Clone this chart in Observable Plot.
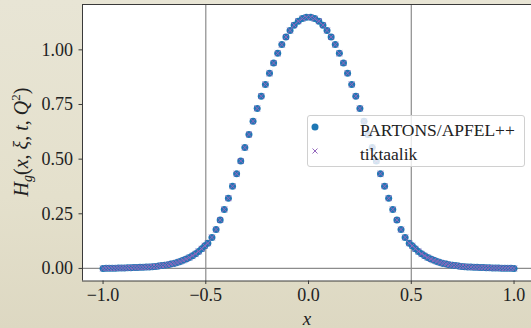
<!DOCTYPE html>
<html>
<head>
<meta charset="utf-8">
<script src="https://cdn.jsdelivr.net/npm/d3@7"></script>
<script src="https://cdn.jsdelivr.net/npm/@observablehq/plot@0.6"></script>
<style>
  html, body { margin: 0; padding: 0; background: #e5e1ce; }
  #wrap { position: relative; width: 531px; height: 328px; overflow: hidden;
    background: linear-gradient(180deg, #e8e5d5 0%, #e4e0cc 60%, #ddd8c2 100%); }
  #wrap svg { position: absolute; left: 0; top: 0; }
  g[aria-label="x-axis label"] text { font-style: italic; font-size: 19px; }
  #legend { position: absolute; left: 307px; top: 115px; width: 218px; height: 52px;
    background: rgba(255,255,255,0.8); border: 1px solid #d0d0d0; border-radius: 3px;
    font-family: "Liberation Serif", "DejaVu Serif", serif; font-size: 17.5px; color: #222; box-sizing: border-box; }
  .entry { position: absolute; left: 0; height: 20px; line-height: 20px; white-space: nowrap; }
  .entry svg { position: absolute; left: 16px; top: 3px; }
  .entry span { position: absolute; left: 52px; top: 0; }
</style>
</head>
<body>
<div id="wrap"></div>
<script>
// ---- data ----
const xGrid = [
  -1.000, -0.985, -0.970, -0.955, -0.940, -0.925, -0.910, -0.895, -0.880, -0.865,
  -0.850, -0.835, -0.820, -0.805, -0.790, -0.775, -0.760, -0.745, -0.730, -0.715,
  -0.700, -0.685, -0.670, -0.655, -0.640, -0.625, -0.610, -0.595, -0.580, -0.565,
  -0.550, -0.535, -0.520, -0.505,
  -0.49, -0.47, -0.45, -0.43, -0.41, -0.39, -0.37, -0.35, -0.33, -0.31,
  -0.29, -0.27, -0.25, -0.23, -0.21, -0.19, -0.17, -0.15, -0.13, -0.11,
  -0.09, -0.07, -0.05, -0.03, -0.01, 0.01, 0.03, 0.05, 0.07, 0.09,
  0.11, 0.13, 0.15, 0.17, 0.19, 0.21, 0.23, 0.25, 0.27, 0.29,
  0.31, 0.33, 0.35, 0.37, 0.39, 0.41, 0.43, 0.45, 0.47, 0.49,
  0.505, 0.520, 0.535, 0.550, 0.565, 0.580, 0.595, 0.610, 0.625, 0.640,
  0.655, 0.670, 0.685, 0.700, 0.715, 0.730, 0.745, 0.760, 0.775, 0.790,
  0.805, 0.820, 0.835, 0.850, 0.865, 0.880, 0.895, 0.910, 0.925, 0.940,
  0.955, 0.970, 0.985, 1.000
];
const hPartons = [
  0.000, 0.001, 0.001, 0.001, 0.001, 0.002, 0.002, 0.002, 0.003, 0.003,
  0.004, 0.004, 0.005, 0.005, 0.006, 0.007, 0.008, 0.009, 0.011, 0.013,
  0.015, 0.017, 0.020, 0.023, 0.027, 0.032, 0.037, 0.043, 0.050, 0.058,
  0.067, 0.078, 0.090, 0.104,
  0.115, 0.142, 0.178, 0.222, 0.270, 0.321, 0.376, 0.433, 0.492, 0.553,
  0.613, 0.673, 0.732, 0.788, 0.842, 0.893, 0.940, 0.984, 1.024, 1.059,
  1.089, 1.113, 1.131, 1.143, 1.149, 1.149, 1.143, 1.131, 1.113, 1.089,
  1.059, 1.024, 0.984, 0.940, 0.893, 0.842, 0.788, 0.732, 0.673, 0.613,
  0.553, 0.492, 0.433, 0.376, 0.321, 0.270, 0.222, 0.178, 0.142, 0.115,
  0.104, 0.090, 0.078, 0.067, 0.058, 0.050, 0.043, 0.037, 0.032, 0.027,
  0.023, 0.020, 0.017, 0.015, 0.013, 0.011, 0.009, 0.008, 0.007, 0.006,
  0.005, 0.005, 0.004, 0.004, 0.003, 0.003, 0.002, 0.002, 0.002, 0.001,
  0.001, 0.001, 0.001, 0.000
];
const hTiktaalik = [
  0.000, 0.001, 0.001, 0.001, 0.001, 0.002, 0.002, 0.002, 0.003, 0.003,
  0.004, 0.004, 0.005, 0.005, 0.006, 0.007, 0.008, 0.009, 0.011, 0.013,
  0.015, 0.017, 0.020, 0.023, 0.027, 0.032, 0.037, 0.043, 0.050, 0.058,
  0.067, 0.078, 0.090, 0.104,
  0.115, 0.142, 0.178, 0.222, 0.270, 0.321, 0.376, 0.433, 0.492, 0.553,
  0.613, 0.673, 0.732, 0.788, 0.842, 0.893, 0.940, 0.984, 1.024, 1.059,
  1.089, 1.113, 1.131, 1.143, 1.149, 1.149, 1.143, 1.131, 1.113, 1.089,
  1.059, 1.024, 0.984, 0.940, 0.893, 0.842, 0.788, 0.732, 0.673, 0.613,
  0.553, 0.492, 0.433, 0.376, 0.321, 0.270, 0.222, 0.178, 0.142, 0.115,
  0.104, 0.090, 0.078, 0.067, 0.058, 0.050, 0.043, 0.037, 0.032, 0.027,
  0.023, 0.020, 0.017, 0.015, 0.013, 0.011, 0.009, 0.008, 0.007, 0.006,
  0.005, 0.005, 0.004, 0.004, 0.003, 0.003, 0.002, 0.002, 0.002, 0.001,
  0.001, 0.001, 0.001, 0.000
];
const xTicks = [-1.0, -0.5, 0.0, 0.5, 1.0];
const yTicks = [0.00, 0.25, 0.50, 0.75, 1.00];
const vLines = [-0.5, 0.5];
const hLines = [0];
const seriesNames = ["PARTONS/APFEL++", "tiktaalik"];
const seriesColors = ["#1f77b4", "#9467bd"];

const partons = xGrid.map((x, i) => ({x, h: hPartons[i]}));
const tiktaalik = xGrid.map((x, i) => ({x, h: hTiktaalik[i]}));

const xDomain = [-1.1, 1.085];
const yDomain = [-0.0575, 1.2075];
const fontFamily = "'Liberation Serif', 'DejaVu Serif', serif";
const spine = "#3a3a3a";

const chart = Plot.plot({
  width: 531,
  height: 328,
  marginLeft: 82,
  marginRight: 0,
  marginTop: 4,
  marginBottom: 47.5,
  style: {background: "transparent", fontFamily, fontSize: "18px", color: "#222", overflow: "visible"},
  x: {domain: xDomain},
  y: {domain: yDomain},
  marks: [
    Plot.frame({fill: "white", stroke: null}),
    Plot.ruleX(vLines, {stroke: "#8c8c8c", strokeWidth: 1.2}),
    Plot.ruleY(hLines, {stroke: "#8c8c8c", strokeWidth: 1.2}),
    Plot.dot(partons, {x: "x", y: "h", r: 3.5, fill: seriesColors[0], stroke: null}),
    Plot.dot(tiktaalik, {x: "x", y: "h", symbol: "times", r: 2.7, stroke: seriesColors[1], strokeWidth: 1}),
    Plot.ruleX([xDomain[0]], {stroke: spine, strokeWidth: 1}),
    Plot.ruleY([yDomain[0]], {stroke: spine, strokeWidth: 1}),
    Plot.ruleY([yDomain[1]], {stroke: spine, strokeWidth: 1}),
    Plot.axisY({ticks: yTicks, tickFormat: d3.format(".2f"), tickSize: 3.5, tickPadding: 6, label: null, stroke: spine}),
    Plot.axisX({ticks: xTicks, tickFormat: d3.format(".1f"), tickSize: 3.5, tickPadding: 4, label: "x", labelAnchor: "center", labelArrow: "none", labelOffset: 44, stroke: spine})
  ]
});
document.getElementById("wrap").appendChild(chart);

// y-axis label with subscript / superscript
const svg = d3.select(chart);
const yl = svg.append("text")
  .attr("transform", "translate(28,142) rotate(-90)")
  .attr("text-anchor", "middle")
  .attr("font-family", fontFamily)
  .attr("font-size", 20)
  .attr("fill", "#222");
yl.append("tspan").attr("font-style", "italic").text("H");
yl.append("tspan").attr("font-style", "italic").attr("font-size", 14).attr("dy", 4).text("g");
yl.append("tspan").attr("dy", -4).text("(");
yl.append("tspan").attr("font-style", "italic").text("x");
yl.append("tspan").text(", ");
yl.append("tspan").attr("font-style", "italic").text("ξ");
yl.append("tspan").text(", ");
yl.append("tspan").attr("font-style", "italic").text("t");
yl.append("tspan").text(", ");
yl.append("tspan").attr("font-style", "italic").text("Q");
yl.append("tspan").attr("font-size", 13).attr("dy", -8).text("2");
yl.append("tspan").attr("dy", 8).text(")");

// legend
const legend = document.createElement("div");
legend.id = "legend";
legend.innerHTML = `
  <div class="entry" style="top:4px;width:100%">
    <svg width="14" height="14"><circle cx="7" cy="7" r="3.5" fill="${seriesColors[0]}"/></svg>
    <span>${seriesNames[0]}</span>
  </div>
  <div class="entry" style="top:28px;width:100%">
    <svg width="14" height="14"><path d="M4.5,4.5L9.5,9.5M9.5,4.5L4.5,9.5" stroke="${seriesColors[1]}" stroke-width="1"/></svg>
    <span>${seriesNames[1]}</span>
  </div>`;
document.getElementById("wrap").appendChild(legend);
</script>
</body>
</html>
